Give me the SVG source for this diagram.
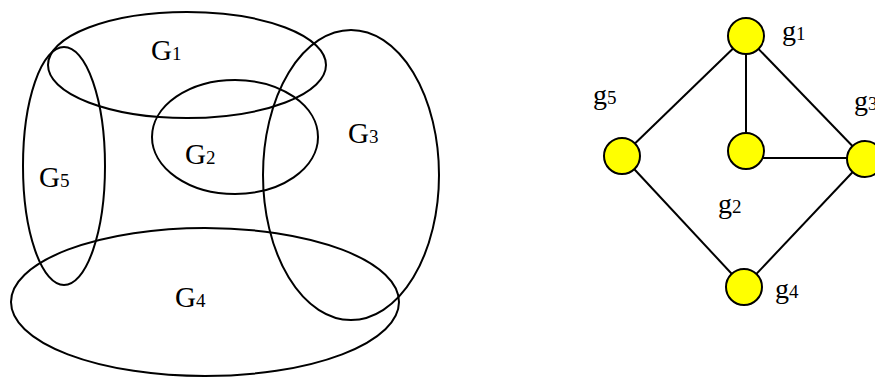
<svg xmlns="http://www.w3.org/2000/svg" width="875" height="379" viewBox="0 0 875 379">
<style>
.e{fill:none;stroke:#000;stroke-width:2}
.l{stroke:#000;stroke-width:2}
.n{fill:#ffff00;stroke:#000;stroke-width:2}
.t{font-family:"Liberation Serif","Times New Roman",serif;fill:#000}
.G{font-size:29px}
.g{font-size:28px}
.s{font-size:19px}
</style>
<rect width="875" height="379" fill="#fff"/>
<g id="G1"><ellipse class="e" cx="187" cy="65" rx="139" ry="53"/><text class="t G" x="151" y="60">G<tspan class="s">1</tspan></text></g>
<g id="G2"><ellipse class="e" cx="235" cy="137" rx="83" ry="57"/><text class="t G" x="185" y="164">G<tspan class="s">2</tspan></text></g>
<g id="G3"><ellipse class="e" cx="351" cy="175" rx="88" ry="145"/><text class="t G" x="348" y="143">G<tspan class="s">3</tspan></text></g>
<g id="G4"><ellipse class="e" cx="205" cy="302" rx="194" ry="74"/><text class="t G" x="175" y="307">G<tspan class="s">4</tspan></text></g>
<g id="G5"><ellipse class="e" cx="64" cy="166" rx="41" ry="119"/><text class="t G" x="39" y="187">G<tspan class="s">5</tspan></text></g>
<g id="connectors">
<line class="l" x1="746" y1="36" x2="746" y2="152"/>
<line class="l" x1="746" y1="36" x2="622" y2="156"/>
<line class="l" x1="746" y1="36" x2="865" y2="159"/>
<line class="l" x1="750" y1="158" x2="865" y2="158"/>
<line class="l" x1="622" y1="156" x2="744" y2="287"/>
<line class="l" x1="865" y1="159" x2="744" y2="287"/>
</g>
<g id="g1"><circle class="n" cx="746" cy="36" r="18"/><text class="t g" x="782" y="40">g<tspan class="s">1</tspan></text></g>
<g id="g2"><circle class="n" cx="746" cy="151" r="18"/><text class="t g" x="718" y="213">g<tspan class="s">2</tspan></text></g>
<g id="g3"><circle class="n" cx="865" cy="159" r="18"/><text class="t g" x="854" y="110">g<tspan class="s">3</tspan></text></g>
<g id="g4"><circle class="n" cx="744" cy="287" r="18"/><text class="t g" x="775" y="298">g<tspan class="s">4</tspan></text></g>
<g id="g5"><circle class="n" cx="622" cy="156" r="18"/><text class="t g" x="593" y="104">g<tspan class="s">5</tspan></text></g>
</svg>
